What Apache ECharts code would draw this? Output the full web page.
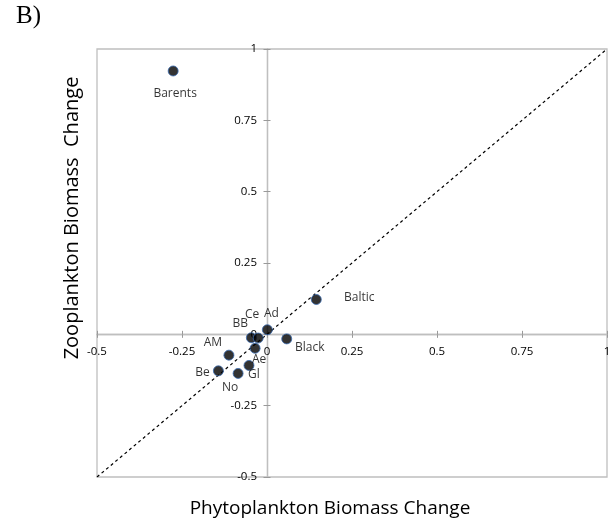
<!DOCTYPE html>
<html>
<head>
<meta charset="utf-8">
<script src="https://cdn.jsdelivr.net/npm/echarts@6/dist/echarts.min.js"></script>
<style>html,body{margin:0;padding:0;background:#fff;}#c{width:609px;height:524px;}</style>
</head>
<body>
<div id="c"></div>
<script>
// Data
const names = ['Barents','Baltic','Ad','Black','BB','Ce','Ae','AM','Be','No','Gl'];
const phyto = [-0.276, 0.145, 0.001, 0.058, -0.046, -0.026, -0.035, -0.112, -0.143, -0.085, -0.053];
const zoo   = [ 0.923, 0.122, 0.016, -0.016, -0.012, -0.013, -0.049, -0.073, -0.128, -0.137, -0.109];
const oneToOne = [[-0.5, -0.5], [1, 1]];
const axisMin = -0.5, axisMax = 1, axisStep = 0.25;

// label placement (style only)
const labelOffsets = {
  Barents:[2,23], Baltic:[43,-2], Ad:[4,-16], Black:[23,9], BB:[-11,-14], Ce:[-6,-23],
  Ae:[4,11], AM:[-16,-13], Be:[-16,2], No:[-8,14], Gl:[5,9]
};

const FONT = 'Open Sans';
const gridCol = '#bfbfbf';
const G = { left: 97, right: 2, top: 49, bottom: 47 };
const W = 609, H = 524;

const pts = names.map((n, i) => ({
  name: n,
  value: [phyto[i], zoo[i]],
  label: { show: true, position: 'inside', offset: labelOffsets[n], formatter: n,
           color: '#000', fontSize: 12, fontFamily: FONT }
}));

function axis(position, offset, labelMargin) {
  return {
    type: 'value', min: axisMin, max: axisMax, interval: axisStep,
    position: position, offset: offset,
    splitLine: { show: false },
    axisLine: { onZero: false, lineStyle: { color: gridCol, width: 1.3 } },
    axisTick: { show: true, length: 3.5, lineStyle: { color: '#999', width: 1 } },
    axisLabel: labelMargin != null
      ? { show: true, color: '#000', fontSize: 11.5, fontFamily: FONT, margin: labelMargin }
      : { show: false }
  };
}

function buildOption(xZeroPx, yZeroPx) {
  const bottomEdge = H - G.bottom, rightEdge = W - G.right;
  return {
    animation: false,
    backgroundColor: '#fff',
    grid: Object.assign({ show: true, borderColor: gridCol, borderWidth: 1.3, outerBoundsMode: 'none', containLabel: false }, G),
    xAxis: [
      axis('bottom', yZeroPx - bottomEdge, 11),
      axis('top', G.top - yZeroPx, null)
    ],
    yAxis: [
      axis('left', G.left - xZeroPx, 10),
      axis('right', xZeroPx - rightEdge, null)
    ],
    graphic: [
      { type: 'text', left: 16, top: 4, style: { text: 'B)', fontSize: 25, fontFamily: 'Liberation Serif', fill: '#000' } },
      { type: 'text', x: 72, y: 218, rotation: Math.PI / 2,
        style: { text: 'Zooplankton Biomass  Change', fontSize: 20, fontFamily: FONT, fill: '#000', align: 'center', verticalAlign: 'middle' } },
      { type: 'text', x: 330, y: 509,
        style: { text: 'Phytoplankton Biomass Change', fontSize: 19, fontFamily: FONT, fill: '#000', align: 'center', verticalAlign: 'middle' } }
    ],
    series: [
      { type: 'line', data: oneToOne, symbol: 'none', silent: true,
        lineStyle: { color: '#000', width: 1.2, type: [3, 3] }, z: 2 },
      { type: 'scatter', data: pts, symbol: 'circle', symbolSize: 10,
        itemStyle: { color: '#000', borderColor: '#3b6bb0', borderWidth: 1 }, z: 3 }
    ]
  };
}

const chart = echarts.init(document.getElementById('c'));
chart.setOption(buildOption(G.left, H - G.bottom));
// place the axes on the zero lines using the library's own scales
const xZero = chart.convertToPixel({ xAxisIndex: 0 }, 0);
const yZero = chart.convertToPixel({ yAxisIndex: 0 }, 0);
chart.setOption(buildOption(xZero, yZero));
</script>
</body>
</html>
